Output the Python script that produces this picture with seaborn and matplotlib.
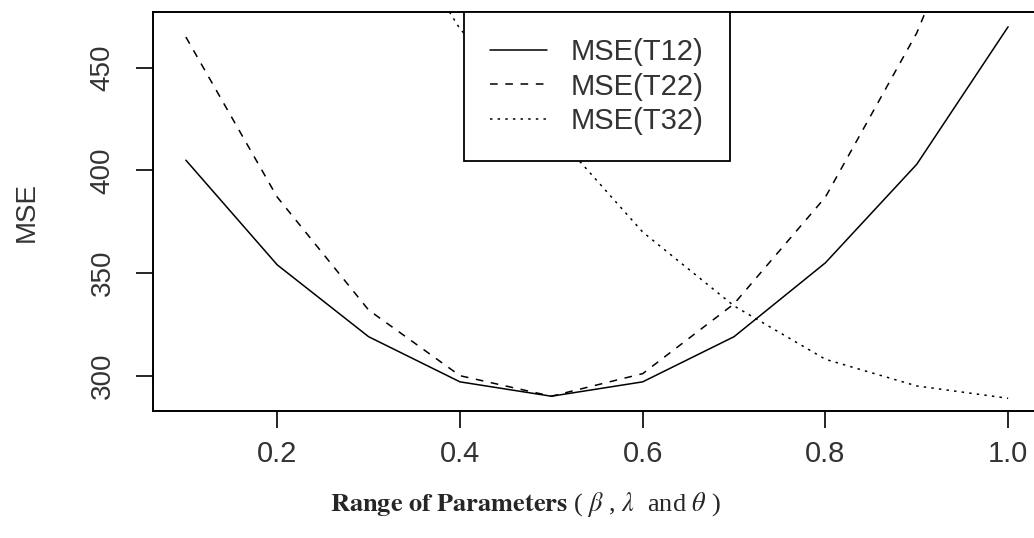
import numpy as np
import pandas as pd
import matplotlib
matplotlib.use("Agg")
import matplotlib.pyplot as plt
import seaborn as sns

# ---- data ----
params = [0.1, 0.2, 0.3, 0.4, 0.5, 0.6, 0.7, 0.8, 0.9, 1.0]
mse_t12 = [405, 354, 319, 297, 290, 297, 319, 355, 403, 470]
mse_t22 = [465, 387, 332, 300, 290, 301, 335, 387, 467, 575]
mse_t32 = [700, 620, 540, 469, 420, 370, 334, 308, 295, 289]
series_names = ["MSE(T12)", "MSE(T22)", "MSE(T32)"]
x_ticks = [0.2, 0.4, 0.6, 0.8, 1.0]
y_ticks = [300, 350, 400, 450]

df = pd.DataFrame({
    "x": params * 3,
    "y": mse_t12 + mse_t22 + mse_t32,
    "series": [series_names[0]] * 10 + [series_names[1]] * 10 + [series_names[2]] * 10,
})

sns.set_style("white")
plt.rcParams["font.family"] = ["Liberation Sans", "DejaVu Sans"]

fig = plt.figure(figsize=(10.34, 5.38), dpi=100)
ax = fig.add_axes([153 / 1034, 1 - 411 / 538, (1041 - 153) / 1034, (411 - 12) / 538])

lw = 1.1
dashes = {series_names[0]: "", series_names[1]: (5, 5), series_names[2]: (1.6, 3.4)}
sns.lineplot(data=df, x="x", y="y", style="series", dashes=dashes, color="black",
             linewidth=lw, ax=ax, legend=True)

# R-like axis ranges (4% extension based on first series)
xr = max(params) - min(params)
ax.set_xlim(min(params) - 0.04 * xr, max(params) + 0.04 * xr)
yr = max(mse_t12) - min(mse_t12)
ax.set_ylim(min(mse_t12) - 0.04 * yr, max(mse_t12) + 0.04 * yr)

ax.set_xticks(x_ticks)
ax.set_xticklabels([f"{v:.1f}" for v in x_ticks], fontsize=21)
ax.set_yticks(y_ticks)
ax.set_yticklabels([str(v) for v in y_ticks], fontsize=20, rotation=90, va="center")
ax.tick_params(axis="both", direction="out", length=12, width=1.2, color="black",
               bottom=True, left=True, labelcolor="#333333")
ax.tick_params(axis="x", pad=9)
ax.tick_params(axis="y", pad=15)

for s in ax.spines.values():
    s.set_visible(True)
    s.set_color("black")
    s.set_linewidth(1.4)

ax.set_xlabel("")
ax.set_ylabel("MSE", fontsize=20, color="#333333", labelpad=36)

handles, labels = ax.get_legend_handles_labels()
leg = ax.legend(handles, labels, loc="upper center", bbox_to_anchor=((597 - 153) / (1041 - 153), 1.0),
                borderaxespad=0, fontsize=21, frameon=True, fancybox=False,
                handlelength=1.95, handletextpad=0.8, borderpad=0.9, labelspacing=0.22)
leg.get_frame().set_edgecolor("black")
leg.get_frame().set_linewidth(1.3)
leg.get_frame().set_alpha(1)
for t in leg.get_texts():
    t.set_color("#333333")

fig.text(330 / 1034, 1 - 511 / 538,
         r"$\mathbf{Range\ of\ Parameters}$ ( $\beta$ , $\lambda$  and $\theta$ )",
         fontsize=19, family=["Liberation Serif", "DejaVu Serif"],
         ha="left", va="baseline", math_fontfamily="stix")

fig.savefig("out.png", dpi=100, facecolor="white")
